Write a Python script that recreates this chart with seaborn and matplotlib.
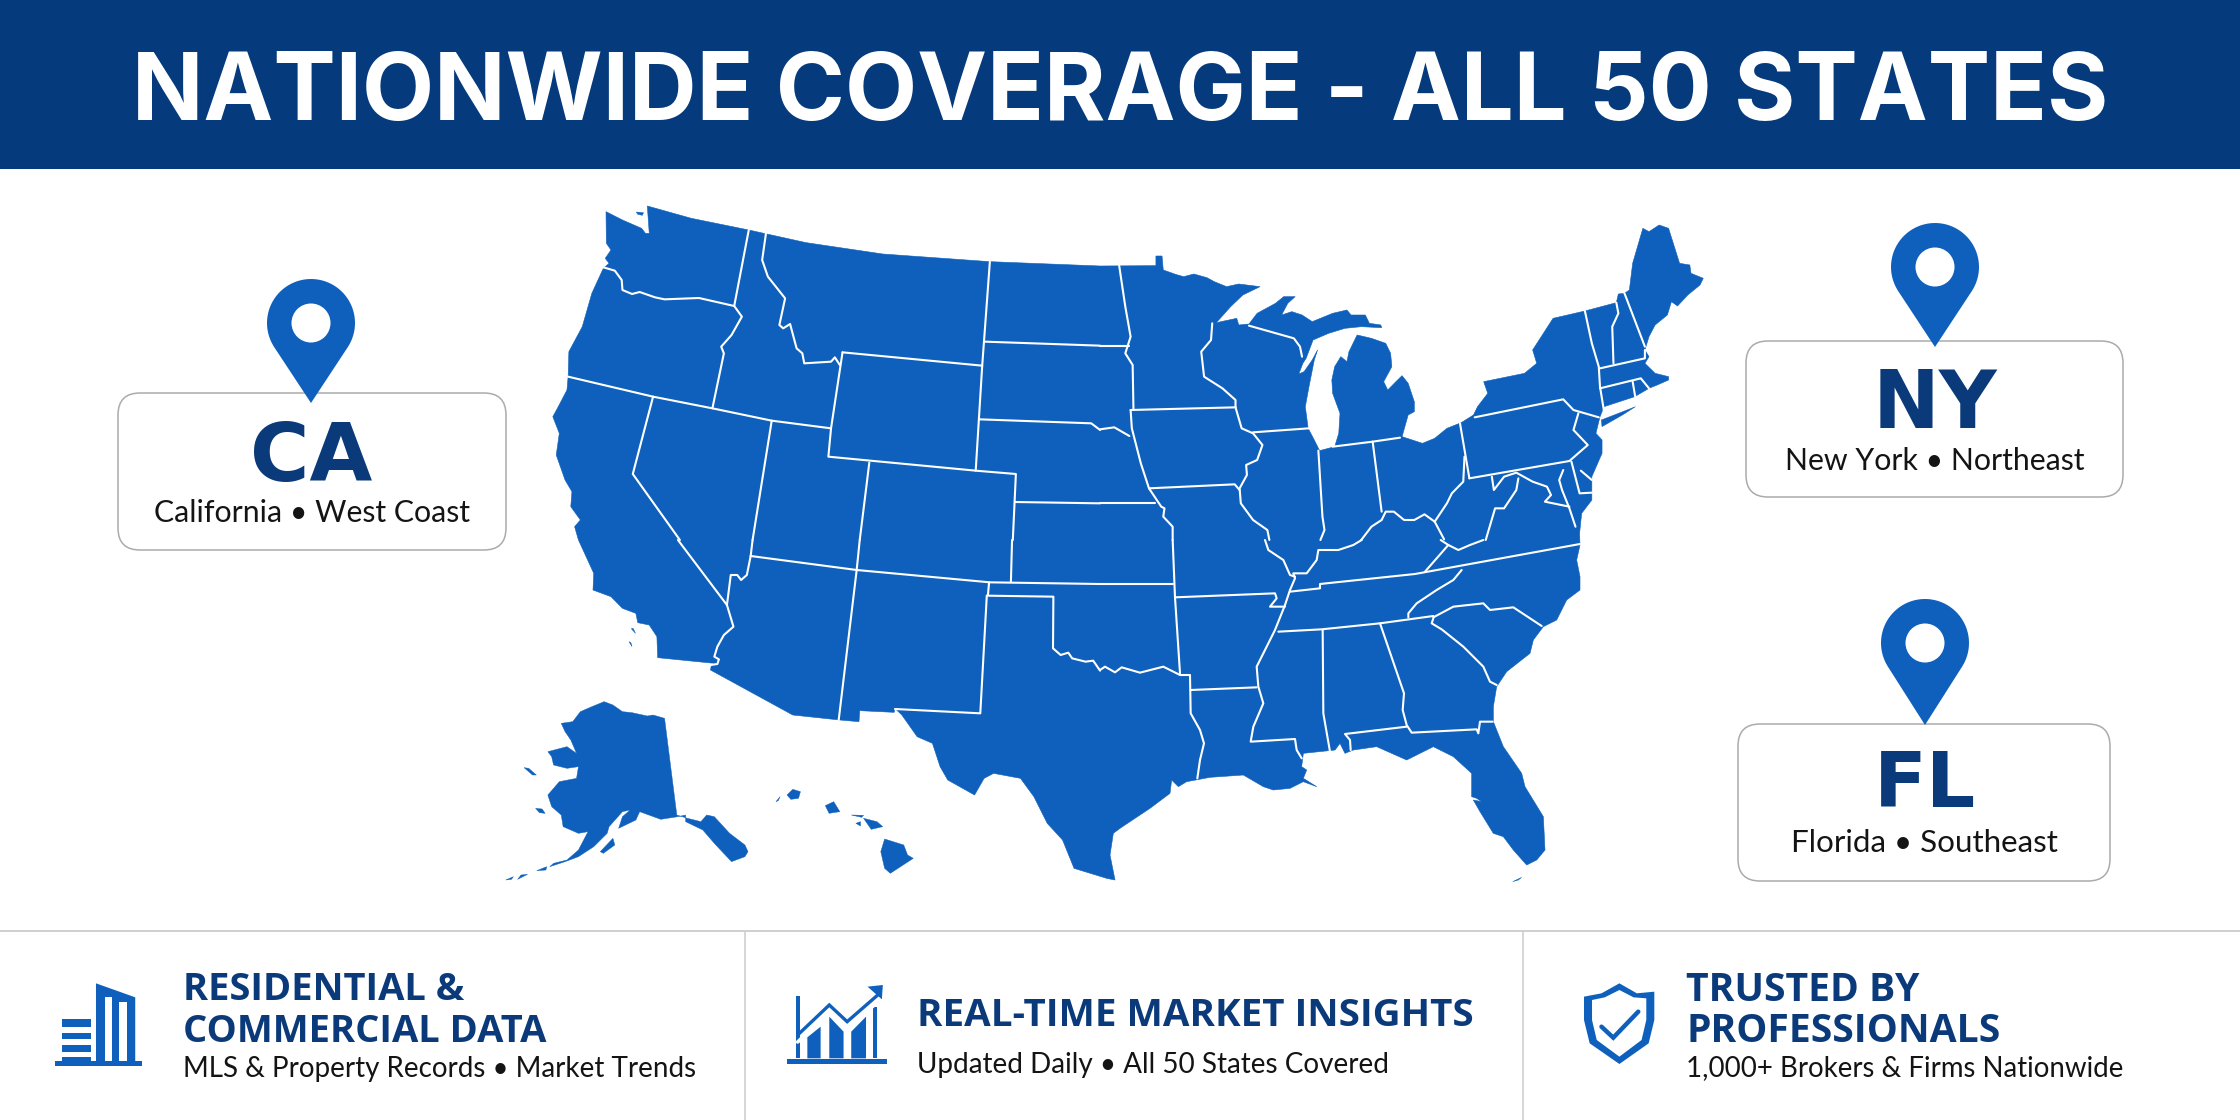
import numpy as np
import pandas as pd
import matplotlib
matplotlib.use("Agg")
import matplotlib.pyplot as plt
from matplotlib.patches import Polygon, Rectangle, FancyBboxPatch, Circle
from matplotlib.textpath import TextPath
from matplotlib.font_manager import FontProperties
import seaborn as sns

sns.set_theme(style="white")

NAVY = "#0A3A7A"
BLUE = "#0E60BC"
INK = "#141414"

TITLE = "NATIONWIDE COVERAGE - ALL 50 STATES"
CALLOUT_CODES = ["CA", "NY", "FL"]
CALLOUT_NAMES = ["California • West Coast", "New York • Northeast", "Florida • Southeast"]
FOOT_HEADS = [["RESIDENTIAL &", "COMMERCIAL DATA"], ["REAL-TIME MARKET INSIGHTS"], ["TRUSTED BY", "PROFESSIONALS"]]
FOOT_SUBS = ["MLS & Property Records • Market Trends", "Updated Daily • All 50 States Covered", "1,000+ Brokers & Firms Nationwide"]

# Frames in which the map outlines were read: origin x, origin y, scale x, scale y
NW = (500, 180, 2.613, 3)
NE = (1100, 180, 2.45, 3)
SW = (500, 540, 2.613, 3)
SE = (1100, 540, 3, 3)

COAST = [
    (NW, [(385,78),(500,115),(650,150),(800,188),(1000,222),(1280,245),(1568,258)]),
    (NE, [(137,257),(137,228),(152,228),(155,270),(185,283),(205,290),(230,282),(262,293),(280,305),(310,320),(340,312),(392,320),
          (350,345),(320,380),(285,428),(335,415),(340,435),(365,432),(385,400),(430,370),(450,350),(478,350),(460,370),(445,405),
          (470,395),(495,405),(520,425),(550,410),(570,400),(605,390),(615,405),(650,405),(660,430),(688,435),(690,443),(640,440),
          (600,445),(560,460),(522,480),(505,535),(497,550),(487,582),(500,575),(520,540),(533,510),(525,540),(512,620),(503,680),
          (510,745),(525,780),(538,812),(575,800),(585,760),(588,700),(570,640),(568,600),(575,560),(590,530),(605,545),(610,515),
          (620,490),(630,465),(665,475),(700,490),(712,520),(715,560),(695,605),(705,630),(725,605),(740,587),(755,610),(770,665),
          (770,695),(755,705),(740,770),(765,780),(790,790),(820,775),(850,745),(885,728),(915,705),(925,680),(950,640),(940,605),
          (1000,590),(1040,580),(1070,550),(1060,510),(1110,415),(1188,393),(1265,368),(1270,342),(1285,340),(1297,330),(1305,250),
          (1330,145),(1345,155),(1370,135),(1393,145),(1420,250),(1445,255),(1448,280),(1478,295),(1470,315),(1440,345),(1415,378),
          (1400,365),(1390,405),(1360,435),(1345,470),(1335,510),(1345,530),(1335,550),(1360,580),(1393,590),(1393,600),(1365,615),
          (1345,625),(1310,650),(1235,680),(1225,710),(1215,760),(1230,780),(1230,820),(1205,890),(1205,960),(1180,1000),(1175,1060)]),
    (SE, [(1440,15),(1430,60),(1440,110),(1440,150),(1400,180),(1370,240),(1330,260),(1300,300),(1290,340),(1220,395),(1190,440),
          (1180,500),(1180,545),(1210,620),(1265,700),(1275,740),(1330,830),(1335,930),(1310,960),(1280,975),(1240,930),(1210,890),
          (1180,880),(1140,815),(1120,780),(1145,785),(1130,775),(1115,770),(1115,700),(1060,650),(1000,620),(920,660),(830,620),
          (760,630),(735,640),(720,610),(705,630),(610,640),(605,680),(620,690),(610,715),(650,740),(610,725),(570,745),(520,750),
          (490,740),(430,705),(330,712),(260,725),(235,740),(215,720),(210,760),(150,805),(60,865),(40,880),(30,945),(45,1020),(20,1015)]),
    (SW, [(1500,985),(1470,900),(1430,850),(1395,770),(1360,715),(1290,700),(1265,715),(1240,765),(1170,720),(1150,680),(1130,610),
          (1090,590),(1050,525),(1032,505),(1030,517),(940,512),(938,545),(888,540),(765,525),(550,390),(552,378),(560,370),(412,353),
          (410,290),(390,255),(360,248),(355,220),(320,205),(290,170),(243,150),(245,100),(205,0)]),
    (NW, [(195,1040),(210,1020),(185,980),(188,935),(170,900),(147,825),(155,760),(138,710),(150,685),(175,630),(178,590),(180,515),
          (215,440),(240,340),(270,265),(285,250),(275,235),(290,210),(278,190),(277,95),(320,120),(370,145),(380,160),(390,160)]),
]

ISLANDS = [
    (NE, [(1228,720),(1312,680),(1280,705),(1230,740)]),
    (NW, [(356,96),(375,98),(372,106),(360,103)]),
    (SW, [(430,535),(400,525),(385,528),(345,518),(320,515),(295,495),(272,485),(240,500),(210,515),(190,545),(160,550),(170,575),
          (185,600),(200,640),(175,620),(125,635),(135,650),(140,675),(175,685),(205,680),(200,715),(155,725),(125,765),(135,800),
          (160,825),(165,860),(185,870),(205,880),(230,875),(205,930),(175,960),(140,970),(130,980),(170,965),(205,950),(245,920),
          (280,880),(285,860),(320,815),(340,810),(320,830),(310,865),(355,840),(365,815),(420,838),(465,830),(485,825),(485,845),
          (530,870),(560,910),(605,965),(640,950),(648,935),(640,915),(600,880),(560,830),(540,825),(525,845),(490,835),(462,825)]),
    (SW, [(262,935),(295,895),(300,915),(270,940)]),
    (SW, [(63,683),(75,685),(95,705),(85,705)]),
    (SW, [(93,805),(110,807),(118,820),(103,818)]),
    (SW, [(96,992),(122,980),(120,990)]),
    (SW, [(15,1020),(35,1010),(30,1018)]),
    (SW, [(46,1018),(55,1005),(72,1003)]),
    (SW, [(1005,897),(1055,915),(1065,945),(1080,955),(1020,1000),(1005,985),(995,935)]),
    (SW, [(950,835),(985,845),(1000,860),(970,868)]),
    (SW, [(850,797),(872,785),(888,815),(860,820)]),
    (SW, [(750,765),(765,748),(785,755),(780,775),(760,778)]),
    (SW, [(721,785),(732,770),(727,782)]),
    (SW, [(918,825),(950,826),(945,832)]),
    (SW, [(930,850),(942,845),(942,858)]),
    (SW, [(343,266),(348,265),(354,280)]),
    (SW, [(337,305),(342,308),(345,320)]),
    (SE, [(1238,1025),(1265,1012),(1255,1020)]),
]

WATER = [
    (NE, [(1135,870),(1125,900),(1132,930),(1150,985),(1165,1040)]),
    (NE, [(1178,872),(1205,900)]),
]

BORDERS = [
    (NW, [(650,150),(612,378)]),
    (NW, [(270,262),(300,272),(318,300),(320,330),(345,342),(365,336),(405,352),(430,358),(520,354),(612,378)]),
    (NW, [(612,378),(632,410),(605,465),(578,500),(585,520),(555,685)]),
    (NW, [(695,160),(685,240),(700,290),(745,355),(730,435),(740,445),(758,432),(775,505),(790,520),(795,550),(865,545),(875,532),(888,555)]),
    (NW, [(895,517),(1260,557)]),
    (NW, [(895,517),(865,745),(858,830),(1243,872),(1348,882),(1340,1080)]),
    (NW, [(1280,245),(1260,557),(1243,872)]),
    (NW, [(1268,485),(1568,497)]),
    (NW, [(1253,718),(1545,730),(1568,750)]),
    (NW, [(178,590),(400,650),(555,685),(710,722),(865,745)]),
    (NW, [(400,650),(347,882),(470,1080)]),
    (NW, [(710,722),(660,1080)]),
    (NW, [(965,848),(940,1080)]),
    (NW, [(1345,966),(1568,970)]),
    (SW, [(465,0),(593,195)]),
    (SW, [(660,0),(655,48)]),
    (SW, [(940,0),(932,90)]),
    (SW, [(1338,0),(1335,125)]),
    (SW, [(655,48),(932,90),(1280,127),(1568,132)]),
    (SW, [(655,48),(645,105),(630,120),(620,105),(603,105),(593,195)]),
    (SW, [(593,195),(610,260),(585,285),(568,320),(560,350),(572,358),(568,372),(550,375)]),
    (SW, [(932,90),(885,540)]),
    (SW, [(1278,127),(1275,165)]),
    (SW, [(1272,167),(1446,170),(1445,325),(1465,345),(1485,338),(1495,355),(1530,365),(1550,362),(1568,392)]),
    (SW, [(1272,167),(1255,520),(1032,507)]),
    (SE, [(0,390),(15,380),(45,397),(65,382),(120,398),(190,380),(240,405),(270,405),(272,520),(300,570),(312,610),(300,660),(292,715)]),
    (SE, [(0,132),(218,132)]),
    (SE, [(218,0),(225,172),(240,400)]),
    (SE, [(225,172),(525,160),(530,175),(510,200),(555,200)]),
    (SE, [(570,150),(555,195),(525,270),(490,340),(470,380),(475,440),(490,490),(460,560),(452,605),(585,597),(590,630),(605,655)]),
    (SE, [(272,450),(470,442)]),
    (SE, [(535,275),(665,268),(840,250),(1000,228)]),
    (SE, [(668,270),(670,520),(690,635)]),
    (SE, [(840,250),(912,460),(908,510),(920,555),(935,578),(1130,568),(1135,580),(1140,545),(1178,545)]),
    (SE, [(920,560),(735,582),(750,600),(752,630)]),
    (SE, [(1000,235),(995,250),(1025,268),(1090,320),(1150,380),(1170,425),(1190,435)]),
    (SE, [(1000,232),(1060,200),(1150,190),(1170,210),(1240,202),(1325,258)]),
    (SE, [(925,232),(925,220),(950,190),(1010,150),(1060,120),(1085,90)]),
    (SE, [(570,155),(660,145),(660,132),(945,102),(1440,12)]),
    (SE, [(975,95),(1045,15),(1075,30),(1110,15),(1150,0)]),
    (SE, [(1045,15),(1022,0)]),
    (NE, [(820,1025),(843,1078)]),
    (SE, [(785,0),(760,15),(715,30),(655,30),(650,60),(620,100),(580,100),(585,115),(570,150)]),
    (SE, [(495,0),(505,30),(550,60),(570,105),(585,110)]),
    (NE, [(47,257),(62,380),(75,470),(62,520),(80,555),(82,690)]),
    (NE, [(0,497),(72,497)]),
    (NE, [(75,690),(332,682)]),
    (NE, [(75,690),(78,745),(100,850),(120,925),(150,980),(158,985),(155,1010),(178,1040),(178,1080)]),
    (NE, [(0,748),(35,742),(72,768)]),
    (NE, [(0,970),(135,970)]),
    (NE, [(120,925),(330,913),(342,930)]),
    (NE, [(332,682),(347,745),(375,760),(398,795),(385,840),(358,855),(360,885),(342,925),(345,970),(375,1020),(410,1050),(415,1080)]),
    (NE, [(275,430),(272,480),(248,515),(255,590),(300,625),(332,660),(332,682)]),
    (NE, [(375,757),(512,745)]),
    (NE, [(365,437),(475,475),(490,500),(495,530)]),
    (NE, [(535,812),(545,1010),(550,1050),(540,1080)]),
    (NE, [(570,800),(668,785),(735,773)]),
    (NE, [(668,785),(690,995)]),
    (NE, [(882,730),(905,895)]),
    (NE, [(640,1080),(665,1040),(690,1020),(700,995),(720,995),(745,1020),(770,1020),(795,1003),(820,1025),(850,970),(862,940),(890,905),(893,830)]),
    (NE, [(905,895),(1150,843)]),
    (NE, [(960,890),(965,930),(990,890),(1020,878),(1060,905),(1095,920),(1105,945),(1090,965),(1150,980)]),
    (NE, [(1025,895),(1020,930),(990,985),(968,985),(945,1080)]),
    (NE, [(918,712),(1135,658),(1160,690),(1222,712)]),
    (NE, [(1172,700),(1160,750),(1195,795),(1150,843)]),
    (NE, [(1155,845),(1175,940),(1205,938)]),
    (NE, [(1188,393),(1205,490),(1222,560),(1225,620),(1235,695)]),
    (NE, [(1265,368),(1270,400),(1255,440),(1258,550)]),
    (NE, [(1285,340),(1335,500)]),
    (NE, [(1225,565),(1335,535),(1335,510)]),
    (NE, [(1225,625),(1325,595),(1345,625)]),
    (NE, [(1305,605),(1312,655)]),
]

# Icon shapes, read in the footer frames
F1 = (0, 920, 2.063, 3)
F2 = (740, 920, 1.96, 3)
F3 = (1500, 920, 2.119, 3)
TOWER = [(198,190),(279,232),(279,437),(198,437)]
TOWER_SLOTS = [[(217,232),(232,232),(232,422),(217,422)], [(246,245),(261,245),(261,422),(246,422)]]
TOWER_FLOORS = [[(128,298),(188,298),(188,320),(128,320)], [(128,338),(188,338),(188,358),(128,358)],
                [(128,375),(188,375),(188,395),(128,395)], [(128,412),(188,412),(188,432),(128,432)]]
TOWER_BASE = [(113,422),(293,422),(293,437),(113,437)]
CHART_BASE = [(93,417),(288,417),(288,432),(93,432)]
CHART_BARS = [[(110,228),(118,228),(118,415),(110,415)], [(132,352),(158,320),(158,415),(132,415)],
              [(175,290),(203,335),(203,415),(175,415)], [(218,335),(247,290),(247,415),(218,415)],
              [(260,260),(268,260),(268,415),(260,415)]]
CHART_TREND = [(113,345),(175,255),(210,305),(270,225)]
CHART_HEAD = [(250,200),(280,195),(278,238)]
SHIELD_OUT = [(253,190),(215,220),(178,230),(178,300),(190,370),(253,432),(315,370),(327,300),(327,215),(290,220)]
SHIELD_IN = [(253,210),(222,232),(195,240),(195,300),(205,360),(253,410),(300,360),(310,300),(310,235),(283,232)]
SHIELD_TICK = [(215,320),(240,353),(293,275)]

PIN_CENTRES = [(311,323), (1935,267), (1925,643)]
PIN_TIPS = [403, 347, 725]
BOX_X = [(118,506), (1746,2123), (1738,2110)]
BOX_Y = [(393,550), (341,497), (724,881)]
CODE_Y = [451, 398, 778]
NAME_Y = [511, 458, 841]
NAME_WIDTH = [314, 297, 264]
CODE_WIDTH = [118, 118, 93]

def place(frame, pts):
    ox, oy, kx, ky = frame
    return [(ox + x / kx, oy + y / ky) for x, y in pts]

def fit_size(s, width, family, weight):
    fp = FontProperties(family=family, weight=weight)
    w = TextPath((0, 0), s, size=100, prop=fp).get_extents().width
    return 100 * width / w * 72 / 100

def put(ax, x, y, s, size, family, weight, color, ha="left"):
    ax.text(x, y, s, fontsize=size, family=family, weight=weight,
            color=color, ha=ha, va="center_baseline")

fig, ax = plt.subplots(figsize=(22.4, 11.2), dpi=100)
fig.subplots_adjust(0, 0, 1, 1)
fig.patch.set_facecolor("white")

ax.add_patch(Rectangle((0, 0), 2240, 169, color="#053A7C", lw=0))
put(ax, 1120, 86, TITLE, fit_size(TITLE, 1968, "Inter", "bold"), "Inter", "bold", "white", ha="center")

# map
coast = [p for frame, pts in COAST for p in place(frame, pts)]
ax.add_patch(Polygon(coast, closed=True, facecolor=BLUE, edgecolor=BLUE, lw=0.4, joinstyle="round"))
for frame, pts in ISLANDS:
    ax.add_patch(Polygon(place(frame, pts), closed=True, facecolor=BLUE, edgecolor=BLUE, lw=0.3))

rows = []
for i, (frame, pts) in enumerate(BORDERS + WATER):
    for j, (x, y) in enumerate(place(frame, pts)):
        rows.append({"line": i, "order": j, "x": x, "y": y})
lines = pd.DataFrame(rows)
sns.lineplot(data=lines, x="x", y="y", units="line", estimator=None, sort=False, color="white",
             lw=1.5, ax=ax, legend=False, solid_joinstyle="round", solid_capstyle="round", zorder=3)

# callouts
for i, code in enumerate(CALLOUT_CODES):
    (x0, x1), (y0, y1) = BOX_X[i], BOX_Y[i]
    ax.add_patch(FancyBboxPatch((x0 + 22, y0 + 22), x1 - x0 - 44, y1 - y0 - 44,
                                boxstyle="round,pad=22,rounding_size=22",
                                facecolor="white", edgecolor="#ABABAB", lw=1.1, zorder=4))
    cx, cy = PIN_CENTRES[i]
    r = 44
    d = PIN_TIPS[i] - cy
    a = np.arccos(r / d)
    th = np.linspace(np.pi / 2 + a, 2 * np.pi + np.pi / 2 - a, 60)
    outline = np.column_stack([cx + r * np.cos(th), cy + r * np.sin(th)])
    outline = np.vstack([outline, [cx, PIN_TIPS[i]]])
    ax.add_patch(Polygon(outline, closed=True, facecolor=BLUE, edgecolor="none", zorder=5))
    ax.add_patch(Circle((cx, cy), 19.5, facecolor="white", edgecolor="none", zorder=6))
    mid = (x0 + x1) / 2
    put(ax, cx, CODE_Y[i], code, fit_size(code, CODE_WIDTH[i], "DejaVu Sans", "bold"), "DejaVu Sans", "bold", NAVY, ha="center")
    ax.texts[-1].set_zorder(6)
    put(ax, mid, NAME_Y[i], CALLOUT_NAMES[i], fit_size(CALLOUT_NAMES[i], NAME_WIDTH[i], "Lato", "normal"), "Lato", "normal", INK, ha="center")
    ax.texts[-1].set_zorder(6)

# footer
ax.plot([0, 2240], [931, 931], color="#CFCFCF", lw=1.4)
ax.plot([745, 745], [931, 1120], color="#CFCFCF", lw=1.2)
ax.plot([1523, 1523], [931, 1120], color="#CFCFCF", lw=1.2)

HEAD_X = [183, 917, 1686]
HEAD_Y = [[986, 1027], [1011], [986, 1027]]
HEAD_W = [362, 550, 310]
SUB_Y = [1066, 1063, 1066]
SUB_W = [509, 467, 433]
for i in range(3):
    longest = max(FOOT_HEADS[i], key=len)
    size = fit_size(longest, HEAD_W[i], "Open Sans", "bold")
    for s, y in zip(FOOT_HEADS[i], HEAD_Y[i]):
        put(ax, HEAD_X[i], y, s, size, "Open Sans", "bold", NAVY)
    put(ax, HEAD_X[i], SUB_Y[i], FOOT_SUBS[i], fit_size(FOOT_SUBS[i], SUB_W[i], "Lato", "normal"), "Lato", "normal", INK)

def poly(frame, pts, color):
    ax.add_patch(Polygon(place(frame, pts), closed=True, facecolor=color, edgecolor="none", zorder=3))

poly(F1, TOWER, BLUE)
for s in TOWER_SLOTS:
    poly(F1, s, "white")
for s in TOWER_FLOORS:
    poly(F1, s, BLUE)
poly(F1, TOWER_BASE, BLUE)
poly(F2, CHART_BASE, BLUE)
for s in CHART_BARS:
    poly(F2, s, BLUE)
trend = np.array(place(F2, CHART_TREND))
ax.plot(trend[:, 0], trend[:, 1], color=BLUE, lw=2.4, zorder=5, solid_joinstyle="miter")
low = trend + np.array([0, 7])
ax.plot(low[:, 0], low[:, 1], color="white", lw=2.6, zorder=4)
poly(F2, CHART_HEAD, BLUE)
ax.patches[-1].set_zorder(6)
poly(F3, SHIELD_OUT, BLUE)
poly(F3, SHIELD_IN, "white")
tick = np.array(place(F3, SHIELD_TICK))
ax.plot(tick[:, 0], tick[:, 1], color=BLUE, lw=3.2, zorder=5, solid_joinstyle="miter")

ax.set_xlim(0, 2240)
ax.set_ylim(1120, 0)
ax.set_xlabel("")
ax.set_ylabel("")
ax.axis("off")
fig.savefig("out.png", dpi=100)
